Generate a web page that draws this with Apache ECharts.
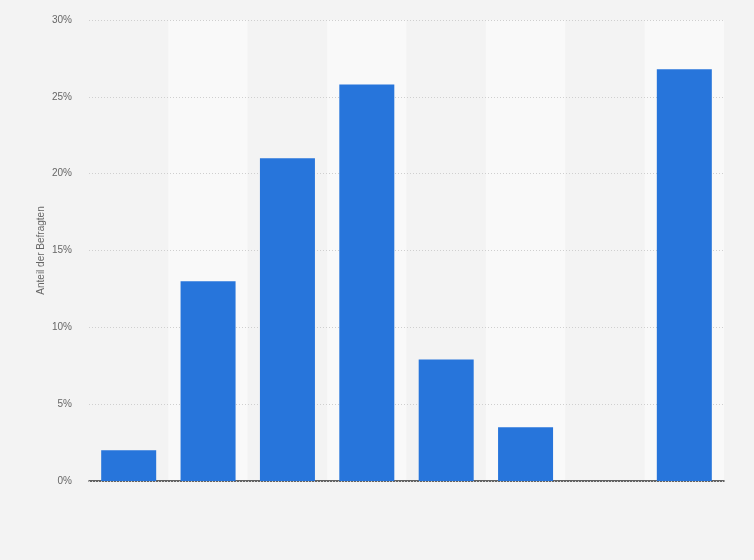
<!DOCTYPE html>
<html><head><meta charset="utf-8">
<script src="https://cdn.jsdelivr.net/npm/echarts@6/dist/echarts.min.js"></script>
<style>html,body{margin:0;padding:0;background:#f3f3f3}#c{width:754px;height:560px}</style>
</head><body><div id="c"></div>
<script>
const categories = ['Kategorie 1','Kategorie 2','Kategorie 3','Kategorie 4','Kategorie 5','Kategorie 6','Kategorie 7','Kategorie 8'];
const shares = [2, 13, 21, 25.8, 7.9, 3.5, 0, 26.8];
const yTicks = [0, 5, 10, 15, 20, 25, 30];
const yAxisTitle = 'Anteil der Befragten';

const chart = echarts.init(document.getElementById('c'));
chart.setOption({
  backgroundColor: '#f3f3f3',
  animation: false,
  grid: {left: 89, right: 30, top: 20, bottom: 79},
  xAxis: {
    type: 'category', data: categories, z: 0,
    axisLine: {lineStyle: {color: '#333', width: 1.5}},
    axisTick: {show: false}, axisLabel: {show: false, interval: 0},
    splitArea: {show: true, interval: 0, areaStyle: {color: ['#f3f3f3', '#f9f9f9']}}
  },
  yAxis: {
    type: 'value', min: yTicks[0], max: yTicks[yTicks.length-1], interval: 5, z: 2,
    name: yAxisTitle, nameLocation: 'middle', nameGap: 43, nameMoveOverlap: false,
    nameTextStyle: {color: '#666', fontSize: 10, fontFamily: 'Arial, Liberation Sans, sans-serif'},
    axisLine: {show: false}, axisTick: {show: false},
    axisLabel: {formatter: v => v + '%', color: '#666', fontSize: 10, margin: 17, fontFamily: 'Arial, Liberation Sans, sans-serif'},
    splitLine: {lineStyle: {color: '#cfcfcf', width: 1, type: [1, 2]}}
  },
  series: [{
    type: 'bar', data: shares, barWidth: 55, z: 3,
    itemStyle: {color: '#2775db'}
  }]
});
</script></body></html>
